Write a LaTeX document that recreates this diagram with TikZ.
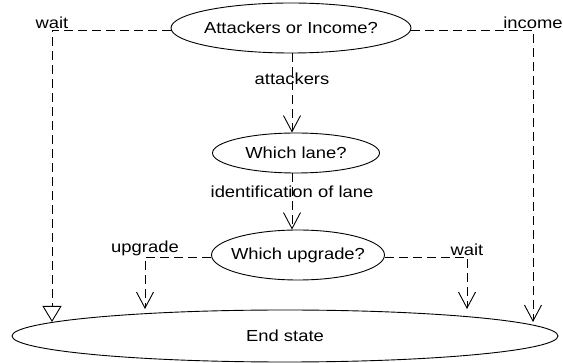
\documentclass[tikz,border=0pt]{standalone}
\usepackage{fontspec}
\setmainfont{Liberation Sans}[FakeStretch=1.15]
\usetikzlibrary{shapes.geometric,arrows.meta}
\newcommand{\centred}[1]{\makebox[0pt][c]{#1}}
\begin{document}
\begin{tikzpicture}[x=1pt,y=-1pt,
  every node/.style={font=\fontsize{16}{19}\selectfont},
  decision/.style={ellipse,draw,line width=0.9pt,inner sep=0pt},
  flow/.style={draw,line width=0.8pt,dash pattern=on 9pt off 5pt,
    -{Straight Barb[length=16pt,width=17pt,line width=0.9pt]}},
  flowwait/.style={draw,line width=0.8pt,dash pattern=on 9pt off 5pt,
    -{Triangle[open,length=16pt,width=19pt,line width=0.9pt]}},
  lbl/.style={inner sep=1pt}]
\useasboundingbox (0,0) rectangle (563,363);

% decision nodes (size set by minimum width/height, text centred inside)
\node[decision,minimum width=240pt,minimum height=50pt] (q1) at (291,28) {\centred{Attackers or Income?}};
\node[decision,minimum width=167pt,minimum height=40pt] (lane) at (296,153) {\centred{Which lane?}};
\node[decision,minimum width=173pt,minimum height=50pt] (upg) at (298,255) {\centred{Which upgrade?}};
\node[decision,minimum width=546pt,minimum height=52pt] (end) at (285,336) {\centred{End state}};

% corners and arrow tips
\coordinate (cw) at (52,30);
\coordinate (tw) at (52,322);
\coordinate (ci) at (533,30);
\coordinate (ti) at (533,322);
\coordinate (cu) at (145,257);
\coordinate (tu) at (145,309);
\coordinate (cv) at (467,257);
\coordinate (tv) at (467,309);
\coordinate (mx) at (292,0);

% branches of the first decision
\draw[flowwait] (q1.west |- cw) -- (cw) -- (tw);
\node[lbl,anchor=south] at (cw) {wait};
\draw[flow] (q1.east |- ci) -- (ci) -- (ti);
\node[lbl,anchor=south] at (ci) {income};
\draw[flow] (mx |- q1.south) -- node[lbl,pos=0.32] {attackers} (mx |- lane.north);

% lane to upgrade
\draw[flow] (mx |- lane.south) -- node[lbl,pos=0.33] {identification of lane} (mx |- upg.north);

% branches of the upgrade decision
\draw[flow] (upg.west |- cu) -- (cu) -- (tu);
\node[lbl,anchor=south] at (cu) {upgrade};
\draw[flow] (upg.east |- cv) -- (cv) -- (tv);
\node[lbl,anchor=south] at (cv) {wait};
\end{tikzpicture}
\end{document}
